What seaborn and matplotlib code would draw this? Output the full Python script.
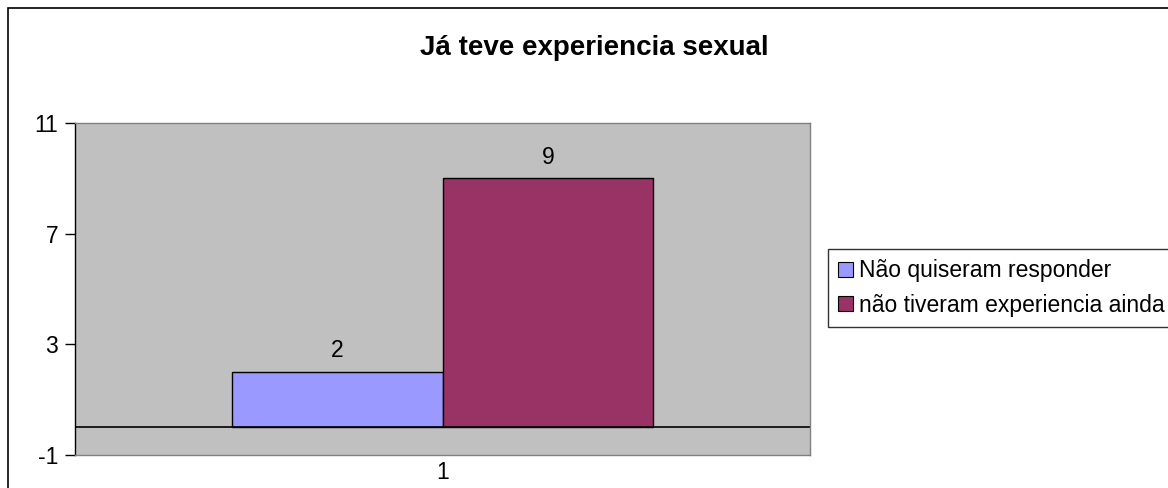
import matplotlib
matplotlib.use("Agg")
import matplotlib.pyplot as plt
import seaborn as sns
import pandas as pd
from matplotlib.patches import Rectangle

categories = ["1"]
series = ["Não quiseram responder", "não tiveram experiencia ainda"]
values = [2, 9]
colors = ["#9999FF", "#993366"]
title = "Já teve experiencia sexual"
yticks = [-1, 3, 7, 11]

sns.set_theme(style="white")
plt.rcParams["font.family"] = ["Liberation Sans", "DejaVu Sans"]
plt.rcParams["axes.unicode_minus"] = False
plt.rcParams["text.color"] = "black"
plt.rcParams["xtick.color"] = "black"
plt.rcParams["ytick.color"] = "black"

df = pd.DataFrame({"cat": categories * len(series), "serie": series, "val": values})

fig = plt.figure(figsize=(11.68, 4.88), dpi=100)
ax = fig.add_axes([75/1168, 1-455/488, 735/1168, 332/488])
ax.set_facecolor("#C0C0C0")

sns.barplot(data=df, x="cat", y="val", hue="serie", palette=colors, width=0.573,
            edgecolor="black", linewidth=1, ax=ax, legend=True, saturation=1)

ax.axhline(0, color="black", lw=1.2, zorder=1)
ax.set_ylim(-1, 11)
ax.set_xlim(-0.5, 0.5)
ax.set_yticks(yticks)
ax.set_xlabel("")
ax.set_ylabel("")
ax.tick_params(axis="y", length=7, width=1, color="black", direction="out", labelsize=16.5, pad=5, left=True)
ax.tick_params(axis="x", length=0, labelsize=16.5, pad=4)
for s in ["top", "right", "bottom"]:
    ax.spines[s].set_color("#808080")
    ax.spines[s].set_linewidth(1)
ax.spines["left"].set_color("black")
ax.spines["left"].set_linewidth(1)

for c in ax.containers:
    ax.bar_label(c, labels=[f"{v:g}" for v in c.datavalues], padding=7, fontsize=16.5, color="black")

handles, labels = ax.get_legend_handles_labels()
if ax.legend_:
    ax.legend_.remove()
leg = fig.legend(handles, labels, loc="upper left", bbox_to_anchor=(828/1168, 1-249/488),
                 frameon=True, fontsize=16.5, handlelength=0.62, handleheight=0.62,
                 handletextpad=0.28, borderpad=0.45, labelspacing=0.5, fancybox=False,
                 borderaxespad=0)
leg.get_frame().set_edgecolor("black")
leg.get_frame().set_linewidth(1)
for h in leg.legend_handles:
    h.set_edgecolor("black")
    h.set_linewidth(0.8)

fig.text(594/1168, 1-48/488, title, ha="center", va="center", fontsize=20, fontweight="bold")

fig.patches.append(Rectangle((8/1168, -0.05), 1.1, 1-8/488+0.05, transform=fig.transFigure,
                             fill=False, edgecolor="black", lw=1.2))

fig.savefig("out.png", dpi=100)
